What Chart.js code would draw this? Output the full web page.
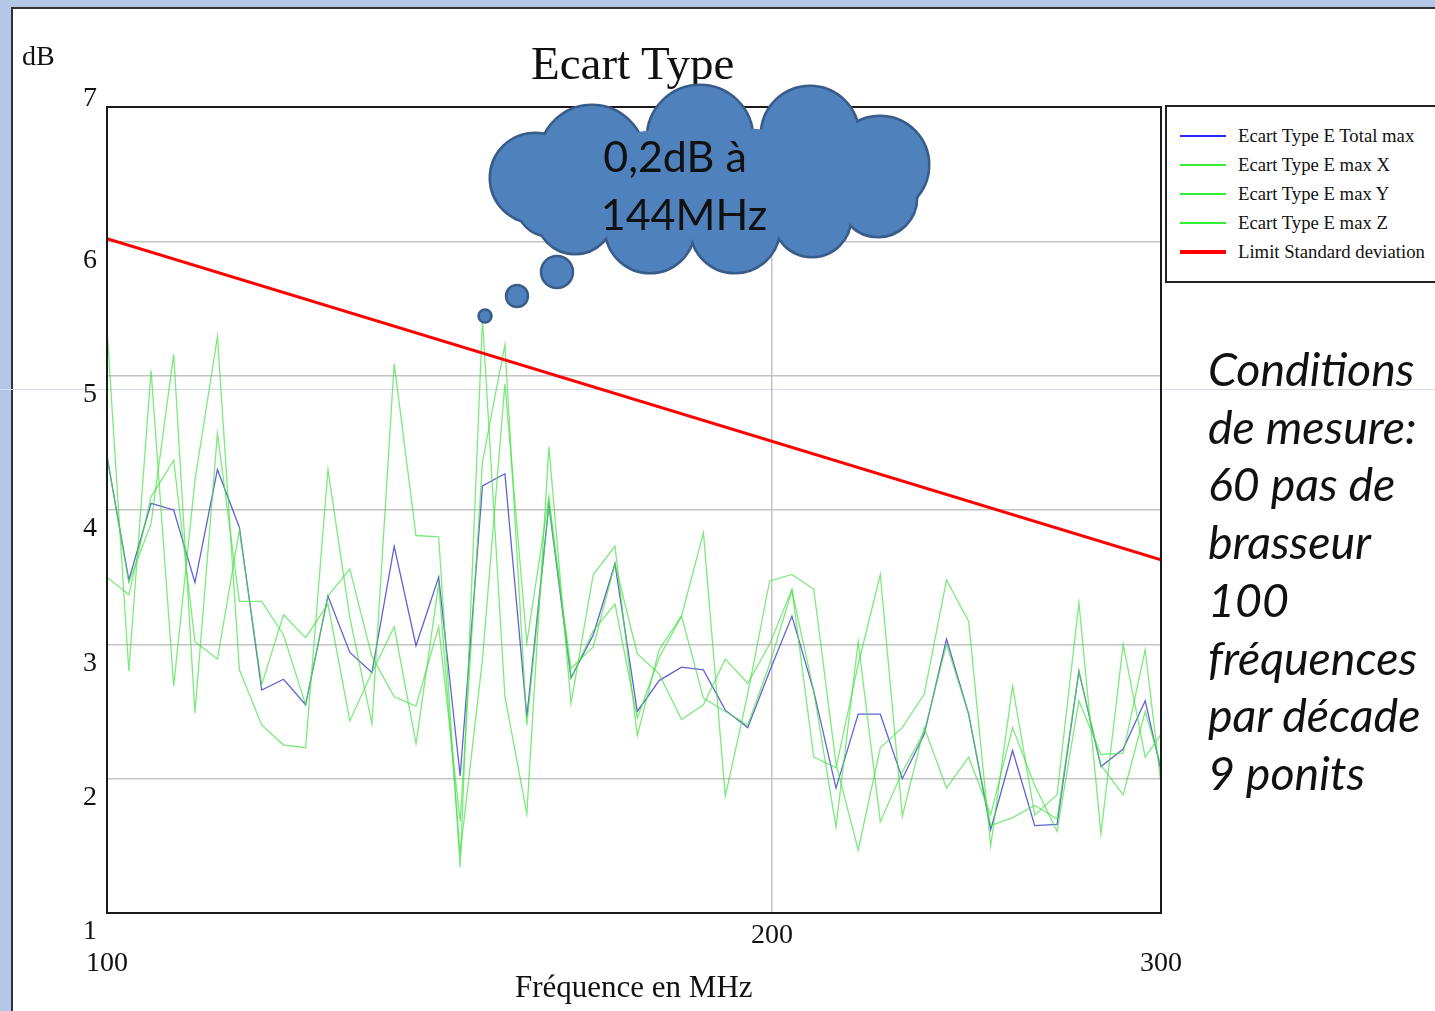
<!DOCTYPE html>
<html>
  <head>
    <meta charset="UTF-8">
    <style>
      html, body { margin:0; padding:0; }
      body { width:1435px; height:1011px; background:#b4c7e7; position:relative; overflow:hidden; font-family:"Liberation Serif", serif; }
      .panel { position:absolute; left:11px; top:7px; right:0; bottom:0; background:#fff; border-left:2px solid #333; border-top:2px solid #333; }
      .hline { position:absolute; left:0; top:389px; width:1435px; height:1px; background:#d3dcf0; }
      #wrap { position:absolute; left:0; top:0; width:1435px; height:1011px; }
      .txt { position:absolute; color:#111; white-space:nowrap; }
      .legend { position:absolute; left:1165px; top:105px; width:300px; height:174px; border:2px solid #222; background:#fff; }
      .legend .row { position:absolute; left:0; height:22px; font-size:18.7px; color:#111; }
      .legend .sw { position:absolute; left:13px; width:46px; top:11px; }
      .legend .lb { position:absolute; left:71px; top:0; white-space:nowrap; }
      .cond { position:absolute; left:1208px; top:340px; font-family:Lato, sans-serif; font-style:italic; font-size:46.5px; line-height:57.7px; color:#111; }
    </style>
  </head>
  <body>
    <div class="panel"></div>
    <div class="hline"></div>
    <div id="wrap"><canvas id="ecart"></canvas></div>

    <div class="txt" style="left:22px;top:40px;font-size:28px;">dB</div>
    <div class="txt" style="left:531px;top:36px;font-size:47px;">Ecart Type</div>
    <div class="txt" style="left:515px;top:969px;font-size:31px;">Fréquence en MHz</div>

    <div class="legend" id="legend"></div>

    <div class="cond">Conditions<br>de mesure:<br>60 pas de<br>brasseur<br>100<br>fréquences<br>par décade<br>9 ponits</div>

    <svg style="position:absolute;left:0;top:0;" width="1435" height="1011" id="cloud"></svg>

    <script src="https://cdn.jsdelivr.net/npm/chart.js@4.4.1/dist/chart.umd.min.js"></script>
    <script type="text/javascript">

      // frequencies, 100 points per decade (MHz)
      const freqs = [100, 102.3, 104.7, 107.2, 109.6, 112.2, 114.8, 117.5, 120.2, 123.0,
                     125.9, 128.8, 131.8, 134.9, 138.0, 141.3, 144.5, 147.9, 151.4, 154.9,
                     158.5, 162.2, 166.0, 169.8, 173.8, 177.8, 182.0, 186.2, 190.5, 195.0,
                     199.5, 204.2, 208.9, 213.8, 218.8, 223.9, 229.1, 234.4, 239.9, 245.5,
                     251.2, 257.0, 263.0, 269.2, 275.4, 281.8, 288.4, 295.1, 300];

      const totalMax = [4.40, 3.48, 4.05, 4.00, 3.46, 4.30, 3.87, 2.66, 2.74, 2.55,
                        3.36, 2.94, 2.79, 3.73, 2.99, 3.50, 2.02, 4.18, 4.27, 2.46,
                        4.04, 2.75, 3.07, 3.60, 2.50, 2.73, 2.83, 2.81, 2.51, 2.38,
                        2.80, 3.21, 2.65, 1.93, 2.48, 2.48, 2.00, 2.33, 3.04, 2.48,
                        1.62, 2.21, 1.65, 1.66, 2.80, 2.09, 2.22, 2.58, 2.06];

      const maxX = [5.35, 2.80, 5.04, 2.69, 4.22, 5.29, 2.81, 2.40, 2.25, 2.23,
                    4.30, 3.20, 2.41, 5.09, 3.81, 3.80, 1.34, 5.42, 2.61, 1.74,
                    4.47, 2.56, 3.52, 3.73, 2.32, 2.96, 3.21, 3.83, 1.87, 2.63,
                    3.47, 3.52, 3.41, 2.11, 1.47, 2.23, 2.38, 2.63, 3.48, 3.17,
                    1.50, 2.69, 1.73, 1.88, 3.31, 1.59, 3.00, 2.16, 2.33];

      const maxY = [4.40, 3.46, 3.90, 5.16, 2.49, 4.57, 3.32, 3.32, 3.07, 2.55,
                    3.36, 3.56, 2.91, 2.61, 2.54, 3.13, 1.68, 4.36, 5.23, 2.40,
                    4.04, 2.82, 2.98, 3.60, 2.93, 2.78, 2.44, 2.55, 2.89, 2.71,
                    3.00, 3.41, 2.16, 2.08, 2.85, 3.52, 1.72, 2.38, 1.93, 2.16,
                    1.73, 2.38, 1.95, 1.61, 2.58, 2.18, 2.19, 2.96, 1.96];

      const maxZ = [3.50, 3.37, 4.10, 4.37, 3.02, 2.89, 3.85, 2.70, 3.22, 3.05,
                    3.30, 2.43, 2.79, 3.13, 2.26, 3.45, 1.44, 2.89, 4.94, 3.01,
                    4.10, 2.75, 3.10, 3.30, 2.45, 2.90, 3.21, 2.60, 2.50, 2.40,
                    2.85, 3.40, 2.65, 1.64, 3.02, 1.68, 2.05, 2.35, 3.00, 2.48,
                    1.65, 1.71, 1.80, 1.70, 2.80, 2.10, 1.88, 2.50, 2.10];

      const limitFreqs = [100, 300];
      const limitDb = [6.02, 3.63];

      const xTicks = [100, 200, 300];
      const yTicks = [1, 2, 3, 4, 5, 6, 7];

      const seriesNames = ['Ecart Type E Total max', 'Ecart Type E max X', 'Ecart Type E max Y', 'Ecart Type E max Z', 'Limit Standard deviation'];

      const BLUE = 'rgba(70,70,205,0.85)';
      const GREEN = 'rgba(70,225,70,0.7)';
      const RED = '#ff0000';

      function pts(xs, ys) {
        return xs.map((x, i) => ({x: x, y: ys[i]}));
      }

      // frame + tick labels
      const frameTicks = {
        id: 'frameTicks',
        afterDraw(chart) {
          const ctx = chart.ctx, a = chart.chartArea;
          const sx = chart.scales.x, sy = chart.scales.y;
          ctx.save();
          ctx.strokeStyle = '#1a1a1a';
          ctx.lineWidth = 2;
          ctx.strokeRect(a.left, a.top, a.right - a.left, a.bottom - a.top);
          ctx.fillStyle = '#111';
          ctx.font = '28px "Liberation Serif"';
          ctx.textAlign = 'right';
          ctx.textBaseline = 'middle';
          yTicks.forEach(v => {
            const py = sy.getPixelForValue(v);
            ctx.fillText(String(v), a.left - 10, py + (v === yTicks[yTicks.length - 1] ? -8 : 19));
          });
          ctx.textAlign = 'center';
          xTicks.forEach((v, i) => {
            const px = sx.getPixelForValue(v);
            const end = (i === 0 || i === xTicks.length - 1);
            ctx.fillText(String(v), px, a.bottom + (end ? 51 : 23));
          });
          ctx.restore();
        }
      };

      const canvas = document.getElementById('ecart');
      canvas.width = 1435;
      canvas.height = 1011;

      new Chart(canvas, {
        type: 'line',
        data: {
          datasets: [
            { label: seriesNames[0], data: pts(freqs, totalMax), borderColor: BLUE, borderWidth: 1.3, order: 2 },
            { label: seriesNames[1], data: pts(freqs, maxX), borderColor: GREEN, borderWidth: 1.3, order: 1 },
            { label: seriesNames[2], data: pts(freqs, maxY), borderColor: GREEN, borderWidth: 1.3, order: 1 },
            { label: seriesNames[3], data: pts(freqs, maxZ), borderColor: GREEN, borderWidth: 1.3, order: 1 },
            { label: seriesNames[4], data: pts(limitFreqs, limitDb), borderColor: RED, borderWidth: 3, order: 0 }
          ]
        },
        options: {
          responsive: false,
          animation: false,
          elements: { point: { radius: 0 }, line: { tension: 0 } },
          layout: { padding: { left: 107, top: 107, right: 274, bottom: 98 } },
          plugins: { legend: { display: false }, tooltip: { enabled: false } },
          scales: {
            x: {
              type: 'logarithmic',
              min: 100,
              max: 300,
              afterBuildTicks: (s) => { s.ticks = xTicks.map(v => ({value: v})); },
              ticks: { display: false },
              grid: { drawTicks: false, color: (c) => c.tick && c.tick.value === 200 ? '#c4c4c4' : 'rgba(0,0,0,0)', lineWidth: 1.5 },
              border: { display: false }
            },
            y: {
              min: 1,
              max: 7,
              afterBuildTicks: (s) => { s.ticks = yTicks.map(v => ({value: v})); },
              ticks: { display: false },
              grid: { drawTicks: false, color: '#c4c4c4', lineWidth: 1.5 },
              border: { display: false }
            }
          }
        },
        plugins: [frameTicks]
      });

      // legend box
      const legendSw = ['#2a2aff', '#33ee33', '#33ee33', '#33ee33', '#ff0000'];
      const lg = document.getElementById('legend');
      seriesNames.forEach((n, i) => {
        const row = document.createElement('div');
        row.className = 'row';
        row.style.top = (18 + i * 29) + 'px';
        const h = i === 4 ? 4 : 1.5;
        row.innerHTML = '<div class="sw" style="height:' + h + 'px;margin-top:' + (-h / 2) + 'px;background:' + legendSw[i] + '"></div><div class="lb">' + n + '</div>';
        lg.appendChild(row);
      });

      // thought cloud
      const svg = document.getElementById('cloud');
      const NS = 'http://www.w3.org/2000/svg';
      const bumps = [[592,158,52],[700,138,52],[810,135,48],[880,165,48],[878,198,38],
                     [812,218,38],[735,228,44],[650,228,44],[575,215,38],[535,178,44],[548,205,30]];
      function circ(cx, cy, r, fill, stroke, sw) {
        const c = document.createElementNS(NS, 'circle');
        c.setAttribute('cx', cx); c.setAttribute('cy', cy); c.setAttribute('r', r);
        c.setAttribute('fill', fill); c.setAttribute('stroke', stroke); c.setAttribute('stroke-width', sw);
        svg.appendChild(c);
      }
      bumps.forEach(b => circ(b[0], b[1], b[2], '#4f81bd', '#385d8a', 5));
      bumps.forEach(b => circ(b[0], b[1], b[2], '#4f81bd', 'none', 0));
      const ell = document.createElementNS(NS, 'ellipse');
      ell.setAttribute('cx', 710); ell.setAttribute('cy', 182); ell.setAttribute('rx', 175); ell.setAttribute('ry', 55);
      ell.setAttribute('fill', '#4f81bd');
      svg.appendChild(ell);
      circ(557, 272, 16, '#4f81bd', '#385d8a', 2.5);
      circ(517, 296, 11, '#4f81bd', '#385d8a', 2.5);
      circ(485, 316, 6.5, '#4f81bd', '#385d8a', 2.5);
      [['0,2dB à', 675, 172], ['144MHz', 684, 230]].forEach(t => {
        const tx = document.createElementNS(NS, 'text');
        tx.setAttribute('x', t[1]); tx.setAttribute('y', t[2]);
        tx.setAttribute('text-anchor', 'middle');
        tx.setAttribute('font-family', 'Lato, sans-serif');
        tx.setAttribute('font-size', '43');
        tx.setAttribute('fill', '#111');
        tx.textContent = t[0];
        svg.appendChild(tx);
      });
    </script>
  </body>
</html>
